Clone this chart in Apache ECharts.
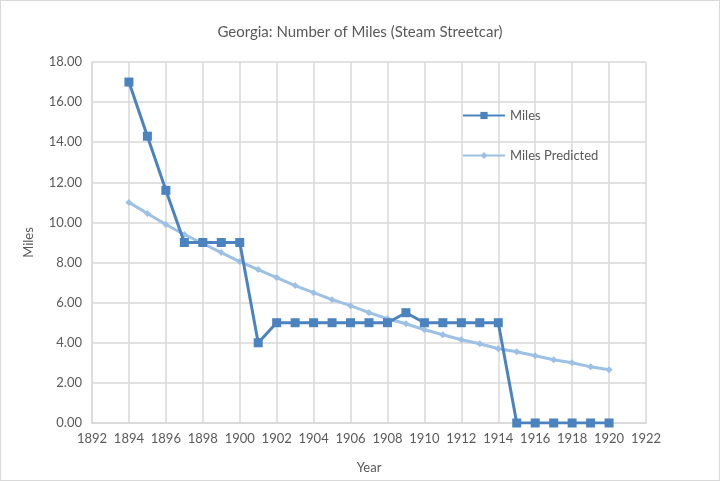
<!DOCTYPE html>
<html><head><meta charset="utf-8">
<script src="https://cdn.jsdelivr.net/npm/echarts@6/dist/echarts.min.js"></script>
<style>html,body{margin:0;padding:0;background:#fff}#c{width:718px;height:479px;border:1px solid #d9d9d9}</style>
</head><body><div id="c"></div>
<script>
const years = [1894,1895,1896,1897,1898,1899,1900,1901,1902,1903,1904,1905,1906,1907,1908,1909,1910,1911,1912,1913,1914,1915,1916,1917,1918,1919,1920];
const miles = [17,14.3,11.6,9,9,9,9,4,5,5,5,5,5,5,5,5.5,5,5,5,5,5,0,0,0,0,0,0];
const milesPredicted = [11.0,10.45,9.9,9.4,8.95,8.5,8.05,7.65,7.25,6.85,6.5,6.15,5.85,5.5,5.2,4.95,4.65,4.4,4.15,3.95,3.7,3.55,3.35,3.15,3.0,2.8,2.65];
const chart = echarts.init(document.getElementById('c'));
const txt = '#595959', grid = '#d9d9d9';
chart.setOption({
  animation:false,
  textStyle:{fontFamily:'Lato'},
  title:{text:'Georgia: Number of Miles (Steam Streetcar)',left:'center',top:19,textStyle:{fontFamily:'Lato',fontSize:15,fontWeight:'normal',color:txt}},
  legend:{orient:'vertical',left:456,top:103,itemGap:27,itemWidth:42,itemHeight:9,textStyle:{fontFamily:'Lato',fontSize:13,color:txt},
    data:['Miles','Miles Predicted']},
  grid:{left:91,right:73,top:61,bottom:57},
  xAxis:{type:'value',min:1892,max:1922,interval:2,name:'Year',nameLocation:'middle',nameGap:38,
    nameTextStyle:{fontFamily:'Lato',fontSize:13,color:txt},
    axisLine:{lineStyle:{color:grid,width:1.5}},axisTick:{show:false},
    axisLabel:{color:txt,fontSize:13,margin:9,formatter:v=>String(v)},splitLine:{show:true,lineStyle:{color:grid,width:1.5}}},
  yAxis:{type:'value',min:0,max:18,interval:2,name:'Miles',nameLocation:'middle',nameGap:57,nameRotate:90,
    nameTextStyle:{fontFamily:'Lato',fontSize:13,color:txt},
    axisLine:{show:true,lineStyle:{color:grid,width:1.5}},axisTick:{show:false},
    axisLabel:{color:txt,fontSize:13,margin:10,formatter:v=>v.toFixed(2)},splitLine:{lineStyle:{color:grid,width:1.5}}},
  series:[
    {name:'Miles Predicted',type:'line',data:years.map((y,i)=>[y,milesPredicted[i]]),symbol:'diamond',symbolSize:7,
      lineStyle:{color:'#9dc0e6',width:3},itemStyle:{color:'#9dc0e6'},z:2},
    {name:'Miles',type:'line',data:years.map((y,i)=>[y,miles[i]]),symbol:'rect',symbolSize:9,
      lineStyle:{color:'#4a83bf',width:3},itemStyle:{color:'#4a83bf'},z:3}
  ]
});
</script></body></html>
